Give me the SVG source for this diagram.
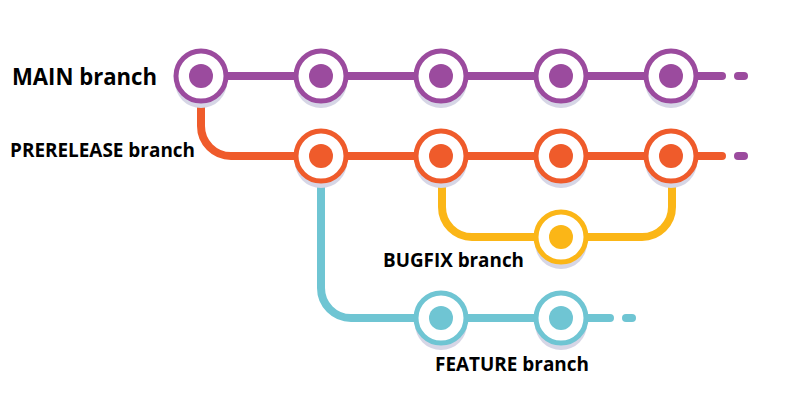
<svg xmlns="http://www.w3.org/2000/svg" width="801" height="400" viewBox="0 0 801 400">
<style>
.ln{fill:none;stroke-width:8;stroke-linecap:round;stroke-linejoin:round}
.p{stroke:#9B4B9E}.o{stroke:#EF5B2B}.y{stroke:#FBB617}.t{stroke:#6FC5D3}
.sh{fill:#D6D6E6}
.ring{fill:#fff;stroke-width:5}
.lbl{font-family:"Open Sans","Liberation Sans",sans-serif;font-weight:bold;fill:#000}
</style>
<defs>
<g id="sh"><circle r="26" class="sh" cy="6"/></g>
</defs>
<rect width="801" height="400" fill="#fff"/>
<g id="connectors">
<path class="ln p" d="M201 76H722"/>
<path class="ln p" d="M738 76H744"/>
<path class="ln o" d="M201 100V126a30 30 0 0 0 30 30H722"/>
<path class="ln p" d="M738 156H744"/>
<path class="ln t" d="M321 180V288a30 30 0 0 0 30 30H610"/>
<path class="ln t" d="M626 318H632"/>
<path class="ln y" d="M442 180V207a30 30 0 0 0 30 30H642a30 30 0 0 0 30-30V180"/>
</g>
<g id="main-1"><use href="#sh" x="201" y="76"/><circle cx="201" cy="76" r="25" class="ring p"/><circle cx="201" cy="76" r="12" fill="#9B4B9E"/></g>
<g id="main-2"><use href="#sh" x="321" y="76"/><circle cx="321" cy="76" r="25" class="ring p"/><circle cx="321" cy="76" r="12" fill="#9B4B9E"/></g>
<g id="main-3"><use href="#sh" x="441" y="76"/><circle cx="441" cy="76" r="25" class="ring p"/><circle cx="441" cy="76" r="12" fill="#9B4B9E"/></g>
<g id="main-4"><use href="#sh" x="561" y="76"/><circle cx="561" cy="76" r="25" class="ring p"/><circle cx="561" cy="76" r="12" fill="#9B4B9E"/></g>
<g id="main-5"><use href="#sh" x="671" y="76"/><circle cx="671" cy="76" r="25" class="ring p"/><circle cx="671" cy="76" r="12" fill="#9B4B9E"/></g>
<g id="pre-1"><use href="#sh" x="321" y="156"/><circle cx="321" cy="156" r="25" class="ring o"/><circle cx="321" cy="156" r="12" fill="#EF5B2B"/></g>
<g id="pre-2"><use href="#sh" x="441" y="156"/><circle cx="441" cy="156" r="25" class="ring o"/><circle cx="441" cy="156" r="12" fill="#EF5B2B"/></g>
<g id="pre-3"><use href="#sh" x="561" y="156"/><circle cx="561" cy="156" r="25" class="ring o"/><circle cx="561" cy="156" r="12" fill="#EF5B2B"/></g>
<g id="pre-4"><use href="#sh" x="671" y="156"/><circle cx="671" cy="156" r="25" class="ring o"/><circle cx="671" cy="156" r="12" fill="#EF5B2B"/></g>
<g id="bugfix-1"><use href="#sh" x="561" y="237"/><circle cx="561" cy="237" r="25" class="ring y"/><circle cx="561" cy="237" r="12" fill="#FBB617"/></g>
<g id="feature-1"><use href="#sh" x="441" y="318"/><circle cx="441" cy="318" r="25" class="ring t"/><circle cx="441" cy="318" r="12" fill="#6FC5D3"/></g>
<g id="feature-2"><use href="#sh" x="561" y="318"/><circle cx="561" cy="318" r="25" class="ring t"/><circle cx="561" cy="318" r="12" fill="#6FC5D3"/></g>
<g id="labels">
<text class="lbl" x="12" y="85" font-size="23" textLength="145" lengthAdjust="spacingAndGlyphs">MAIN branch</text>
<text class="lbl" x="10" y="157" font-size="19" textLength="185" lengthAdjust="spacingAndGlyphs">PRERELEASE branch</text>
<text class="lbl" x="383" y="267" font-size="19" textLength="141" lengthAdjust="spacingAndGlyphs">BUGFIX branch</text>
<text class="lbl" x="435" y="371" font-size="19" textLength="154" lengthAdjust="spacingAndGlyphs">FEATURE branch</text>
</g>
</svg>
